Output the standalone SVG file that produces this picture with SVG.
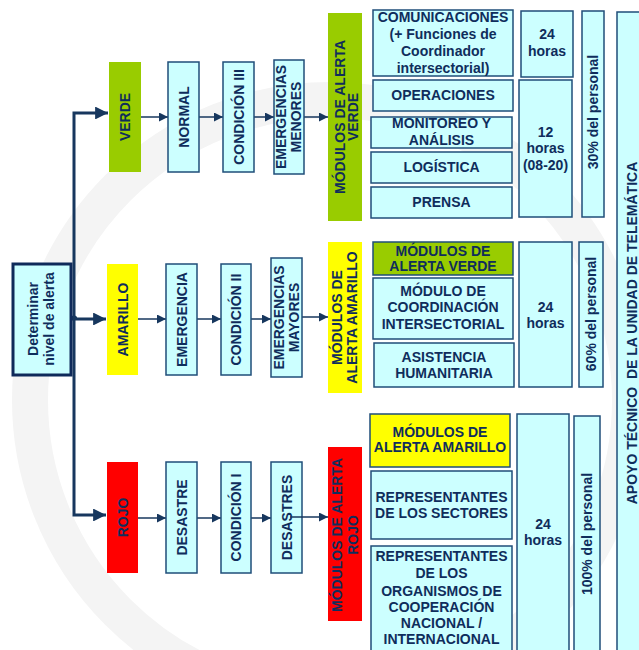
<svg xmlns="http://www.w3.org/2000/svg" width="639" height="650" viewBox="0 0 639 650">
<defs>
<style>
.t{font-family:"Liberation Sans",Arial,sans-serif;font-weight:bold;font-size:14px;fill:#0F2D5C;text-anchor:middle}
.box{fill:#CCFFFF;stroke:#1F4E79;stroke-width:1.5}
.thin{fill:none;stroke:#17375E;stroke-width:1.5}
.thick{fill:none;stroke:#17375E;stroke-width:3}
</style>
<marker id="ah" viewBox="0 0 10 10" refX="10" refY="5" markerWidth="6" markerHeight="6" markerUnits="strokeWidth" orient="auto">
<path d="M0,0 L10,5 L0,10 Z" fill="#17375E"/>
</marker>
<marker id="ahb" viewBox="0 0 10 10" refX="10" refY="5" markerWidth="4.3" markerHeight="4.3" markerUnits="strokeWidth" orient="auto">
<path d="M0,0 L10,5 L0,10 Z" fill="#17375E"/>
</marker>
</defs>
<rect width="639" height="650" fill="#FFFFFF"/>
<g id="watermark" fill="none" stroke="#F4F4F4">
<circle cx="330" cy="400" r="300" stroke-width="36"/>
</g>

<g id="connectors">
<path class="thick" d="M74,319 V113 H108" marker-end="url(#ahb)"/>
<path class="thick" d="M74,319 V515 H106" marker-end="url(#ahb)"/>
<path class="thick" d="M71,319 H72 A2,2 0 0 1 76,319 H106" marker-end="url(#ahb)"/>
<path class="thin" d="M141,117 H168" marker-end="url(#ah)"/>
<path class="thin" d="M199,117 H223" marker-end="url(#ah)"/>
<path class="thin" d="M254,117 H274" marker-end="url(#ah)"/>
<path class="thin" d="M304,117 H328" marker-end="url(#ah)"/>
<path class="thin" d="M138,319 H166" marker-end="url(#ah)"/>
<path class="thin" d="M197,319 H221" marker-end="url(#ah)"/>
<path class="thin" d="M251,319 H271" marker-end="url(#ah)"/>
<path class="thin" d="M302,317 H328" marker-end="url(#ah)"/>
<path class="thin" d="M138,518 H166" marker-end="url(#ah)"/>
<path class="thin" d="M197,518 H221" marker-end="url(#ah)"/>
<path class="thin" d="M251,518 H271" marker-end="url(#ah)"/>
</g>

<g id="determinar">
<rect x="13" y="264" width="58" height="111" fill="#CCFFFF" stroke="#0F2A5A" stroke-width="3"/>
<text class="t" transform="translate(42,319) rotate(-90)"><tspan x="0" y="-4">Determinar</tspan><tspan x="0" y="12">nivel de alerta</tspan></text>
</g>

<g id="verde">
<rect x="109" y="62" width="32" height="110" fill="#99CC00"/>
<text class="t" transform="translate(125,117) rotate(-90)" y="5">VERDE</text>
</g>
<g id="normal">
<rect class="box" x="168" y="62" width="31" height="110"/>
<text class="t" transform="translate(183.5,117) rotate(-90)" y="5">NORMAL</text>
</g>
<g id="condicion3">
<rect class="box" x="223" y="62" width="31" height="110"/>
<text class="t" transform="translate(238.5,117) rotate(-90)" y="5">CONDICIÓN III</text>
</g>
<g id="emerg-menores">
<rect class="box" x="274" y="60" width="30" height="114"/>
<text class="t" transform="translate(289,117) rotate(-90)"><tspan x="0" y="-3">EMERGENCIAS</tspan><tspan x="0" y="12">MENORES</tspan></text>
</g>

<g id="amarillo">
<rect x="107" y="264" width="31" height="111" fill="#FFFF00"/>
<text class="t" transform="translate(122.5,319.5) rotate(-90)" y="5">AMARILLO</text>
</g>
<g id="emergencia">
<rect class="box" x="166" y="264" width="31" height="111"/>
<text class="t" transform="translate(181.5,319.5) rotate(-90)" y="5">EMERGENCIA</text>
</g>
<g id="condicion2">
<rect class="box" x="221" y="264" width="30" height="111"/>
<text class="t" transform="translate(236,319.5) rotate(-90)" y="5">CONDICIÓN II</text>
</g>
<g id="emerg-mayores">
<rect class="box" x="271" y="258" width="31" height="119"/>
<text class="t" transform="translate(286.5,317.5) rotate(-90)"><tspan x="0" y="-3">EMERGENCIAS</tspan><tspan x="0" y="12">MAYORES</tspan></text>
</g>

<g id="rojo">
<rect x="107" y="462" width="31" height="111" fill="#FF0000"/>
<text class="t" transform="translate(122.5,517.5) rotate(-90)" y="5">ROJO</text>
</g>
<g id="desastre">
<rect class="box" x="166" y="462" width="31" height="111"/>
<text class="t" transform="translate(181.5,517.5) rotate(-90)" y="5">DESASTRE</text>
</g>
<g id="condicion1">
<rect class="box" x="221" y="462" width="30" height="111"/>
<text class="t" transform="translate(236,517.5) rotate(-90)" y="5">CONDICIÓN I</text>
</g>
<g id="desastres">
<rect class="box" x="271" y="462" width="31" height="111"/>
<text class="t" transform="translate(286.5,517.5) rotate(-90)" y="5">DESASTRES</text>
</g>
<path class="thin" d="M290,517 H328" marker-end="url(#ah)"/>

<g id="mod-verde">
<rect x="328" y="13" width="34" height="208" fill="#99CC00"/>
<text class="t" transform="translate(345,117) rotate(-90)"><tspan x="0" y="0">MÓDULOS DE ALERTA</tspan><tspan x="0" y="13">VERDE</tspan></text>
</g>
<g id="mod-amarillo">
<rect x="328" y="242" width="34" height="151" fill="#FFFF00"/>
<text class="t" transform="translate(345,317.5) rotate(-90)"><tspan x="0" y="-3">MÓDULOS DE</tspan><tspan x="0" y="12">ALERTA AMARILLO</tspan></text>
</g>
<g id="mod-rojo">
<rect x="328" y="447" width="34" height="174" fill="#FF0000"/>
<text class="t" transform="translate(345,535) rotate(-90)"><tspan x="0" y="-3">MÓDULOS DE ALERTA</tspan><tspan x="0" y="13">ROJO</tspan></text>
</g>

<g id="comunicaciones">
<rect class="box" x="373" y="10" width="140" height="66"/>
<text class="t"><tspan x="443" y="22">COMUNICACIONES</tspan><tspan x="443" y="39">(+ Funciones de</tspan><tspan x="443" y="56">Coordinador</tspan><tspan x="443" y="73">intersectorial)</tspan></text>
</g>
<g id="operaciones">
<rect class="box" x="373" y="80" width="140" height="31"/>
<text class="t" x="443" y="100">OPERACIONES</text>
</g>
<g id="monitoreo">
<rect class="box" x="371" y="117" width="141" height="31"/>
<text class="t"><tspan x="441.5" y="128">MONITOREO Y</tspan><tspan x="441.5" y="145">ANÁLISIS</tspan></text>
</g>
<g id="logistica">
<rect class="box" x="371" y="152" width="141" height="31"/>
<text class="t" x="441.5" y="172">LOGÍSTICA</text>
</g>
<g id="prensa">
<rect class="box" x="371" y="187" width="141" height="31"/>
<text class="t" x="441.5" y="207">PRENSA</text>
</g>
<g id="h24-verde">
<rect class="box" x="521" y="11" width="52" height="66"/>
<text class="t"><tspan x="547" y="39">24</tspan><tspan x="547" y="56">horas</tspan></text>
</g>
<g id="h12-verde">
<rect class="box" x="519" y="80" width="53" height="137"/>
<text class="t"><tspan x="545.5" y="137">12</tspan><tspan x="545.5" y="153">horas</tspan><tspan x="545.5" y="170">(08-20)</tspan></text>
</g>
<g id="p30">
<rect class="box" x="582" y="11" width="22" height="206"/>
<text class="t" transform="translate(593,112) rotate(-90)" y="5">30% del personal</text>
</g>

<g id="mod-verde-2">
<rect x="373" y="242" width="140" height="33" fill="#99CC00" stroke="#1F4E79" stroke-width="1.5"/>
<text class="t"><tspan x="443" y="256">MÓDULOS DE</tspan><tspan x="443" y="271">ALERTA VERDE</tspan></text>
</g>
<g id="coordinacion">
<rect class="box" x="373" y="278" width="140" height="61"/>
<text class="t"><tspan x="443" y="296">MÓDULO DE</tspan><tspan x="443" y="312">COORDINACIÓN</tspan><tspan x="443" y="329">INTERSECTORIAL</tspan></text>
</g>
<g id="asistencia">
<rect class="box" x="374" y="343" width="140" height="44"/>
<text class="t"><tspan x="444" y="362">ASISTENCIA</tspan><tspan x="444" y="378">HUMANITARIA</tspan></text>
</g>
<g id="h24-amarillo">
<rect class="box" x="519" y="242" width="53" height="145"/>
<text class="t"><tspan x="545.5" y="312">24</tspan><tspan x="545.5" y="328">horas</tspan></text>
</g>
<g id="p60">
<rect class="box" x="579" y="242" width="24" height="145"/>
<text class="t" transform="translate(591,314) rotate(-90)" y="5">60% del personal</text>
</g>

<g id="mod-amarillo-2">
<rect x="370" y="414" width="140" height="53" fill="#FFFF00" stroke="#1F4E79" stroke-width="1.5"/>
<text class="t"><tspan x="440" y="437">MÓDULOS DE</tspan><tspan x="440" y="452">ALERTA AMARILLO</tspan></text>
</g>
<g id="rep-sectores">
<rect class="box" x="371" y="471" width="141" height="68"/>
<text class="t"><tspan x="441.5" y="502">REPRESENTANTES</tspan><tspan x="441.5" y="518">DE LOS SECTORES</tspan></text>
</g>
<g id="rep-organismos">
<rect class="box" x="371" y="546" width="141" height="110"/>
<text class="t"><tspan x="441.5" y="561">REPRESENTANTES</tspan><tspan x="441.5" y="578">DE LOS</tspan><tspan x="441.5" y="596">ORGANISMOS DE</tspan><tspan x="441.5" y="612">COOPERACIÓN</tspan><tspan x="441.5" y="628">NACIONAL /</tspan><tspan x="441.5" y="644">INTERNACIONAL</tspan></text>
</g>
<g id="h24-rojo">
<rect class="box" x="517" y="414" width="52" height="242"/>
<text class="t"><tspan x="543" y="529">24</tspan><tspan x="543" y="545">horas</tspan></text>
</g>
<g id="p100">
<rect class="box" x="574" y="416" width="26" height="240"/>
<text class="t" transform="translate(587,534) rotate(-90)" y="5">100% del personal</text>
</g>

<g id="apoyo">
<rect class="box" x="617" y="12" width="30" height="645"/>
<text class="t" transform="translate(632,333) rotate(-90)" y="5" xml:space="preserve">APOYO TÉCNICO  DE LA UNIDAD DE TELEMÁTICA</text>
</g>
</svg>
